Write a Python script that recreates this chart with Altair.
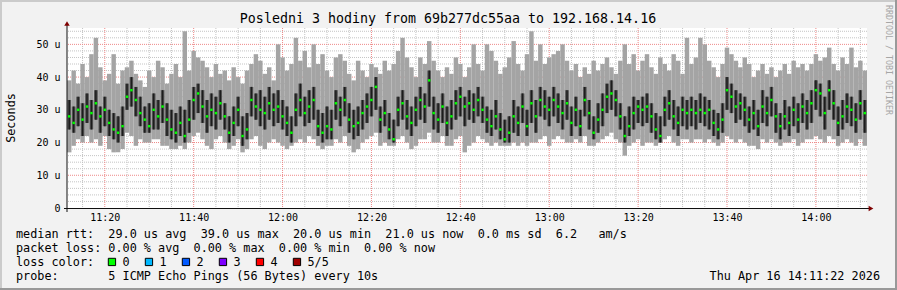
import altair as alt
import pandas as pd

# ---------------- data (microseconds), one step per minute from 11:11:30 ----------------
mx = [39,42,38,44,40,47,52,43,39,41,
      47,38,42,43,45,41,39,37,42,40,
      45,43,38,41,44,40,54,42,48,46,
      45,43,40,44,41,42,39,43,40,38,
      42,44,47,45,41,43,39,50,46,42,
      44,52,45,48,43,50,44,47,42,40,
      46,47,45,41,39,45,42,40,44,43,
      41,45,42,44,48,52,46,43,40,46,
      44,51,45,42,40,43,41,46,44,40,
      43,50,44,42,50,48,45,41,43,46,
      51,44,42,47,54,45,50,44,46,47,
      48,50,45,42,44,40,43,41,45,42,
      44,46,43,41,45,50,44,47,42,45,
      47,43,41,46,44,42,47,45,41,52,
      44,46,52,50,45,43,40,44,49,47,
      45,43,46,44,40,42,44,41,43,40,
      42,44,41,45,43,44,42,44,47,45,
      46,49,44,42,46,44,49,43,45,42]
hi = [33,31,34,32,35,33,36,31,34,30,
      29,28,31,38,40,37,34,31,32,35,
      33,36,32,30,29,31,30,33,37,38,
      36,33,35,34,36,32,28,31,34,28,
      29,37,35,36,34,37,35,36,33,31,
      28,35,38,34,36,37,30,29,31,30,
      36,34,37,32,30,31,33,35,37,40,
      31,33,29,27,34,36,33,31,34,37,
      35,42,34,32,35,31,33,36,37,34,
      36,35,37,34,31,30,33,29,27,28,
      33,31,35,30,36,33,37,36,34,37,
      35,33,36,31,34,30,37,33,28,32,
      35,38,39,36,32,28,31,34,33,34,
      35,32,29,28,34,36,33,31,34,33,
      34,33,35,34,33,30,29,32,40,38,
      36,35,34,31,33,30,36,34,37,32,
      29,33,31,34,32,35,33,36,39,38,
      34,39,36,31,33,35,34,32,36,33]
md = [28,26,30,27,31,29,32,28,30,26,
      24,23,25,34,36,33,29,27,25,30,
      28,31,27,24,23,26,22,27,33,35,
      31,28,30,29,32,28,23,26,30,22,
      24,33,31,30,29,32,30,31,28,26,
      23,30,33,29,31,33,25,23,25,24,
      32,30,33,27,25,26,29,31,33,37,
      27,29,24,21,30,32,28,26,30,33,
      31,39,29,27,31,26,28,32,34,31,
      32,30,33,30,27,25,28,24,21,23,
      28,26,31,25,32,28,33,31,30,33,
      31,29,32,26,30,25,33,29,23,27,
      30,34,35,33,28,22,25,29,31,30,
      31,28,24,22,30,32,28,26,30,29,
      30,29,30,29,30,26,24,27,36,34,
      31,32,30,27,29,25,31,29,33,28,
      25,28,26,30,27,31,29,32,36,35,
      29,36,32,26,28,31,30,27,32,29]
lo = [24,23,25,22,26,24,27,23,25,22,
      21,20,22,30,31,28,25,23,23,24,
      24,26,22,21,20,22,20,23,27,29,
      26,23,25,24,27,24,20,22,25,19,
      21,28,27,25,24,27,25,26,24,22,
      20,25,28,25,26,27,22,20,21,21,
      27,25,28,23,21,22,24,26,28,30,
      23,25,21,20,25,27,24,22,25,27,
      26,31,24,23,26,22,24,27,28,25,
      27,26,28,26,23,22,24,21,20,20,
      23,22,26,22,26,23,28,27,25,28,
      26,24,27,22,25,22,28,24,21,23,
      25,29,30,28,24,20,22,24,26,25,
      26,23,21,20,25,27,24,22,25,24,
      25,24,26,25,24,22,21,23,30,29,
      26,27,25,23,24,22,26,25,28,23,
      21,24,22,25,23,26,24,26,30,28,
      24,30,27,22,24,26,25,23,27,23]
mn = [17,19,21,20,22,20,21,19,22,18,
      17,17,18,23,22,19,21,20,20,21,
      21,19,19,18,18,19,18,20,22,23,
      21,19,18,21,22,20,18,19,21,17,
      18,21,22,19,18,20,21,20,19,18,
      19,20,21,20,22,21,19,18,19,19,
      21,20,22,19,17,18,20,21,22,23,
      19,20,19,19,21,22,20,18,19,21,
      21,23,20,20,22,19,19,21,22,17,
      19,20,22,21,20,19,20,19,19,19,
      20,19,20,19,20,20,21,22,19,21,
      22,21,20,20,21,20,22,19,19,20,
      21,22,23,21,20,16,19,20,21,19,
      20,20,19,20,21,22,20,19,21,21,
      20,21,21,20,21,20,19,20,22,21,
      20,21,20,19,19,18,21,20,21,20,
      19,20,20,21,19,20,21,21,22,21,
      20,22,21,19,20,21,20,19,21,19]

START_MIN = 671.5          # 11:11:30 as minutes of the day
END_MIN = 851.5            # 14:11:30
x_ticks = [680, 700, 720, 740, 760, 780, 800, 820, 840]
y_ticks = [0, 10, 20, 30, 40, 50]

title_text = "Posledni 3 hodiny from 69b277dc55aa to 192.168.14.16"
legend_rows = [
    "median rtt:  29.0 us avg  39.0 us max  20.0 us min  21.0 us now  0.0 ms sd  6.2   am/s",
    "packet loss: 0.00 % avg  0.00 % max  0.00 % min  0.00 % now",
    "loss color:",
    "probe:       5 ICMP Echo Pings (56 Bytes) every 10s",
]
loss_labels = ["0", "1", "2", "3", "4", "5/5"]
loss_colors = ["#00ff00", "#00b8ff", "#0059ff", "#7e00ff", "#ff0000", "#a00000"]
date_text = "Thu Apr 16 14:11:22 2026"
side_text = "RRDTOOL / TOBI OETIKER"
y_title = "Seconds"

# ---------------- build ----------------
NB = "\u00a0"
MONO = "DejaVu Sans Mono"

n = len(md)
df = pd.DataFrame({
    "t0": [START_MIN + i for i in range(n)],
    "mx": mx, "hi": hi, "md": md, "lo": lo, "mn": mn,
})
one = pd.DataFrame({"a": [0]})

xs = alt.Scale(domain=[START_MIN, END_MIN], nice=False, zero=False)
ys = alt.Scale(domain=[0, 55], nice=False)

base = alt.Chart(df).transform_calculate(
    t1="datum.t0 + 1",
    tc="datum.t0 + 0.5",
    ml="datum.t0 + 0.5 - 0.42",
    mr="datum.t0 + 0.5 + 0.42",
    kl="datum.t0 + 0.5 - 0.17",
    kr="datum.t0 + 0.5 + 0.17",
)

x_axis = alt.Axis(values=x_ticks, title=None, domain=False, ticks=False, grid=False,
                  labelExpr="floor(datum.value/60) + ':' + (datum.value % 60 < 10 ? '0' : '') + (datum.value % 60)",
                  labelFont=MONO, labelFontSize=10, labelColor="#000000", labelPadding=4,
                  labelFlush=False)
y_axis = alt.Axis(values=y_ticks, title=None, domain=False, ticks=False, grid=False,
                  labelExpr="datum.value == 0 ? '0" + NB + NB + "' : datum.value + '" + NB + "u'",
                  labelFont=MONO, labelFontSize=10, labelColor="#000000", labelPadding=7)

def X(field):
    return alt.X(field, scale=xs, axis=x_axis)

def Y(field):
    return alt.Y(field, scale=ys, axis=y_axis)

# grid
minor_v = pd.DataFrame({"m": [m for m in range(675, 851, 5) if m % 20 != 0]})
major_v = pd.DataFrame({"m": x_ticks})
minor_h = pd.DataFrame({"v": [v for v in range(2, 55, 2) if v % 10 != 0]})
major_h = pd.DataFrame({"v": y_ticks[1:]})

g1 = alt.Chart(minor_v).mark_rule(color="#c4c4c4", strokeDash=[1, 1], strokeWidth=1).encode(x=X("m:Q"))
g2 = alt.Chart(minor_h).mark_rule(color="#c4c4c4", strokeDash=[1, 1], strokeWidth=1).encode(y=Y("v:Q"))
g3 = alt.Chart(major_v).mark_rule(color="#ee8888", strokeDash=[1, 1], strokeWidth=1).encode(x=X("m:Q"))
g4 = alt.Chart(major_h).mark_rule(color="#ee8888", strokeDash=[1, 1], strokeWidth=1).encode(y=Y("v:Q"))

# smoke
light = base.mark_rect(color="#a4a4a4").encode(
    x=X("t0:Q"), x2="t1:Q", y=Y("mn:Q"), y2="mx:Q")
mid = base.mark_rect(color="#575757").encode(
    x=X("ml:Q"), x2="mr:Q", y=Y("lo:Q"), y2="hi:Q")
dark = base.mark_rect(color="#1c1c1c").encode(
    x=X("kl:Q"), x2="kr:Q", y=Y("lo:Q"), y2="hi:Q")
med = base.mark_square(size=6, color="#00ff00", opacity=1, filled=True).encode(
    x=X("tc:Q"), y=Y("md:Q"))

def rect(x1, x2, y1, y2, color, **kw):
    return alt.Chart(one).mark_rect(color=color, **kw).encode(
        x=alt.value(x1), x2=alt.value(x2), y=alt.value(y1), y2=alt.value(y2))

def txt(s, x, y, size=11.8, align="left", angle=0, color="#000000", baseline="alphabetic"):
    return alt.Chart(one).mark_text(text=s.replace(" ", NB), align=align, baseline=baseline,
                                    font=MONO, fontSize=size, angle=angle, color=color).encode(
        x=alt.value(x), y=alt.value(y))

# frame (3D border of the image)
frame = [
    rect(-67, 830, -28, -26, "#cbcbcb"),
    rect(-67, -65, -28, 262, "#cbcbcb"),
    rect(-67, 830, 260, 262, "#999999"),
    rect(828, 830, -28, 262, "#999999"),
]

# axis lines + arrows
axes = [
    alt.Chart(one).mark_rule(color="#101010", strokeWidth=1).encode(
        x=alt.value(-3), x2=alt.value(803), y=alt.value(180.5)),
    alt.Chart(one).mark_rule(color="#101010", strokeWidth=1).encode(
        x=alt.value(0), y=alt.value(-3), y2=alt.value(184)),
    alt.Chart(one).mark_point(shape="triangle-up", size=30, filled=True, color="#7f0000", opacity=1).encode(
        x=alt.value(0), y=alt.value(-4.5)),
    alt.Chart(one).mark_point(shape="triangle-right", size=30, filled=True, color="#7f0000", opacity=1).encode(
        x=alt.value(804), y=alt.value(180.5)),
]

texts = [
    txt(title_text, 381, -5, size=13.3, align="center"),
    txt(y_title, -56, 90, angle=270, align="center", baseline="middle"),
    txt(side_text, 821, 32, size=8.3, angle=90, align="center", baseline="middle", color="#a6a6a6"),
    txt(date_text, 813, 252, align="right"),
]
for k, row in enumerate(legend_rows):
    texts.append(txt(row, -51, 210 + 14 * k))
for k, (lab, col) in enumerate(zip(loss_labels, loss_colors)):
    texts.append(rect(41.3 + 37 * k, 48.6 + 37 * k, 230.3, 237.6, col, stroke="#000000", strokeWidth=1))
    texts.append(txt(lab, 55.5 + 37 * k, 238))

chart = alt.layer(
    *frame, g1, g2, g3, g4, light, mid, dark, med, *axes, *texts
).properties(
    width=800, height=180,
    autosize=alt.AutoSizeParams(type="none"),
    padding={"left": 67, "top": 28, "right": 30, "bottom": 82},
    background="#f2f2f2",
).configure_view(fill="white", stroke=None)

chart.save("out.html", embed_options={"renderer": "svg", "actions": False})
